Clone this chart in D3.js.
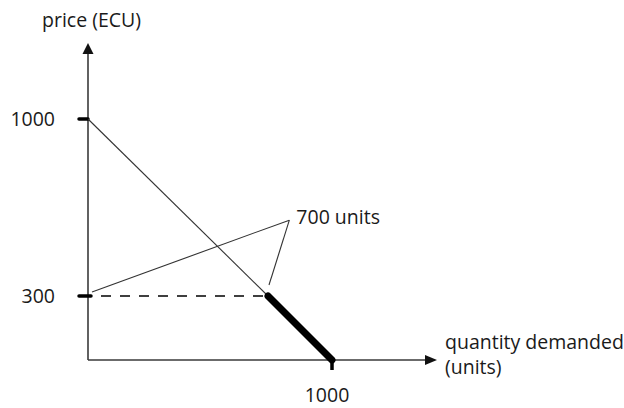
<!DOCTYPE html>
<html>
<head>
<meta charset="utf-8">
<script src="https://cdn.jsdelivr.net/npm/d3@7"></script>
<style>
  html, body { margin: 0; padding: 0; background: #fff; }
  svg { display: block; }
  text { font-family: "Open Sans", "Liberation Sans", sans-serif; font-size: 19.5px; fill: #1a1a1a; }
</style>
</head>
<body>
<svg id="chart" width="624" height="408"></svg>
<script>
// ---- data ----
const priceTicks = [1000, 300];
const quantityTicks = [1000];
const demandUpper = [{ q: 0, p: 1000 }, { q: 700, p: 300 }];
const demandLower = [{ q: 700, p: 300 }, { q: 1000, p: 0 }];
const referencePrice = 300;
const referenceQuantity = 700;
const annotationLabel = "700 units";
const annotationAnchor = { q: 800, p: 600 };
const yAxisTitle = "price (ECU)";
const xAxisTitle = ["quantity demanded", "(units)"];

// ---- scales (schematic, piecewise linear) ----
const x = d3.scaleLinear().domain([0, 700, 1000]).range([88, 268, 332]);
const y = d3.scaleLinear().domain([0, 300, 1000]).range([360, 296, 119]);

const svg = d3.select("#chart");
const ink = "#3a3a3a";
const x0 = x(0), y0 = y(0);

// axes
svg.append("line").attr("x1", x0).attr("y1", y0).attr("x2", x0).attr("y2", 52)
  .attr("stroke", ink).attr("stroke-width", 1.6);
svg.append("path").attr("d", `M${x0},43 L${x0 - 5.5},54 L${x0 + 5.5},54 Z`).attr("fill", "#111");
svg.append("line").attr("x1", x0).attr("y1", y0).attr("x2", 427).attr("y2", y0)
  .attr("stroke", ink).attr("stroke-width", 1.6);
svg.append("path").attr("d", `M437,${y0} L425,${y0 - 5} L425,${y0 + 5} Z`).attr("fill", "#111");

// y ticks
svg.selectAll(".yt").data(priceTicks).join("line")
  .attr("x1", 79).attr("x2", d => d === referencePrice ? 91 : x0)
  .attr("y1", d => y(d)).attr("y2", d => y(d))
  .attr("stroke", "#000").attr("stroke-width", 3.5).attr("stroke-linecap", "round");
svg.selectAll(".yl").data(priceTicks).join("text")
  .attr("x", 55).attr("y", d => y(d) + 7).attr("text-anchor", "end").text(d => d);

// x ticks
svg.selectAll(".xt").data(quantityTicks).join("line")
  .attr("x1", d => x(d)).attr("x2", d => x(d)).attr("y1", y0).attr("y2", y0 + 10)
  .attr("stroke", "#000").attr("stroke-width", 3.5);
svg.selectAll(".xl").data(quantityTicks).join("text")
  .attr("x", d => x(d) - 5).attr("y", 402).attr("text-anchor", "middle").text(d => d);

// dashed reference line
svg.append("line")
  .attr("x1", x0 + 13).attr("x2", x(referenceQuantity))
  .attr("y1", y(referencePrice)).attr("y2", y(referencePrice))
  .attr("stroke", "#000").attr("stroke-width", 1.4).attr("stroke-dasharray", "10,9");

// demand curve
const line = d3.line().x(d => x(d.q)).y(d => y(d.p));
svg.append("path").datum(demandUpper).attr("d", line)
  .attr("fill", "none").attr("stroke", "#333").attr("stroke-width", 1.1);
svg.append("path").datum(demandLower).attr("d", line)
  .attr("fill", "none").attr("stroke", "#000").attr("stroke-width", 7).attr("stroke-linecap", "round");

// annotation
const ax = x(annotationAnchor.q), ay = y(annotationAnchor.p);
svg.append("line").attr("x1", x0 + 4).attr("y1", y(referencePrice) - 4).attr("x2", ax).attr("y2", ay)
  .attr("stroke", "#333").attr("stroke-width", 1.1);
svg.append("line").attr("x1", x(referenceQuantity) + 1).attr("y1", y(referencePrice) - 11).attr("x2", ax).attr("y2", ay)
  .attr("stroke", "#333").attr("stroke-width", 1.1);
svg.append("text").attr("x", ax + 7).attr("y", ay + 4).text(annotationLabel);

// axis titles
svg.append("text").attr("x", 42).attr("y", 27).text(yAxisTitle);
svg.selectAll(".xtitle").data(xAxisTitle).join("text")
  .attr("x", 445).attr("y", (d, i) => 349 + i * 25).text(d => d);
</script>
</body>
</html>
